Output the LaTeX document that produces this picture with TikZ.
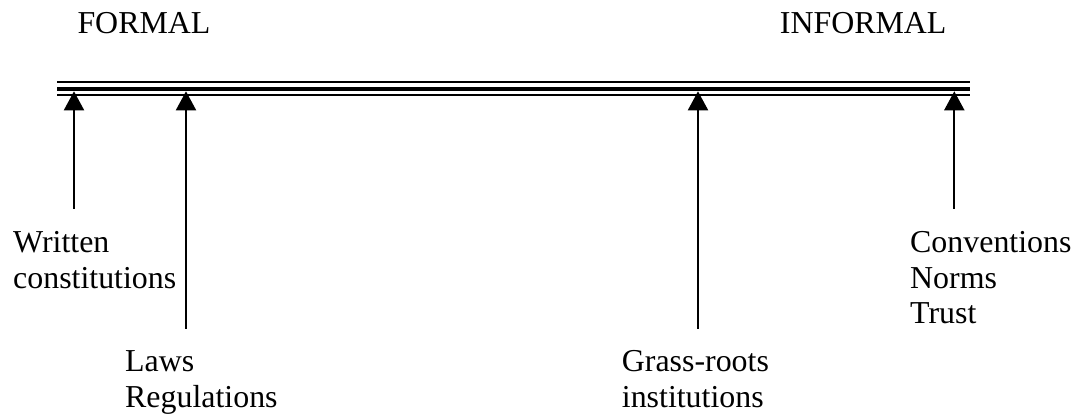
\documentclass[tikz,border=0pt]{standalone}
\usepackage{fontspec}
\setmainfont{Liberation Serif}
\usetikzlibrary{arrows.meta}
\begin{document}
\begin{tikzpicture}[x=1pt,y=-1pt,
  lbl/.style={inner sep=0pt,anchor=base west,align=left,font=\fontsize{31.9}{35.7}\selectfont},
  thin bar/.style={line width=2pt},
  thick bar/.style={line width=4.7pt},
  arr/.style={line width=2pt,-{Triangle[length=19pt,width=20pt]}}]
\useasboundingbox (0,0) rectangle (1079,419);
% headings
\node[lbl] (formal) at (77.3,34) {FORMAL};
\node[lbl,anchor=base east] (informal) at (946.7,34) {INFORMAL};
% triple bar
\coordinate (barL) at (57.3,89);
\coordinate (barR) at (970,89);
\draw[thin bar] ([yshift=-6.5pt]barL) -- ([yshift=-6.5pt]barR);
\draw[thick bar] (barL) -- (barR);
\draw[thin bar] ([yshift=6.7pt]barL) -- ([yshift=6.7pt]barR);
% tips on the bar
\coordinate (tipA) at (74,91.3);
\coordinate (tipB) at (186,91.3);
\coordinate (tipC) at (698,91.3);
\coordinate (tipD) at (954.3,91.3);
% arrow feet
\coordinate (footA) at (74,209);
\coordinate (footB) at (186,329);
\coordinate (footC) at (698,329);
\coordinate (footD) at (954.3,209);
\draw[arr] (footA) -- (tipA);
\draw[arr] (footB) -- (tipB);
\draw[arr] (footC) -- (tipC);
\draw[arr] (footD) -- (tipD);
% labels (anchored at the baseline of the last line)
\node[lbl] (written) at (13,288.5) {Written\\constitutions};
\node[lbl] (laws) at (125,407.5) {Laws\\Regulations};
\node[lbl] (grass) at (621.7,407.5) {Grass-roots\\institutions};
\node[lbl] (conv) at (910,324) {Conventions\\Norms\\Trust};
\end{tikzpicture}
\end{document}
